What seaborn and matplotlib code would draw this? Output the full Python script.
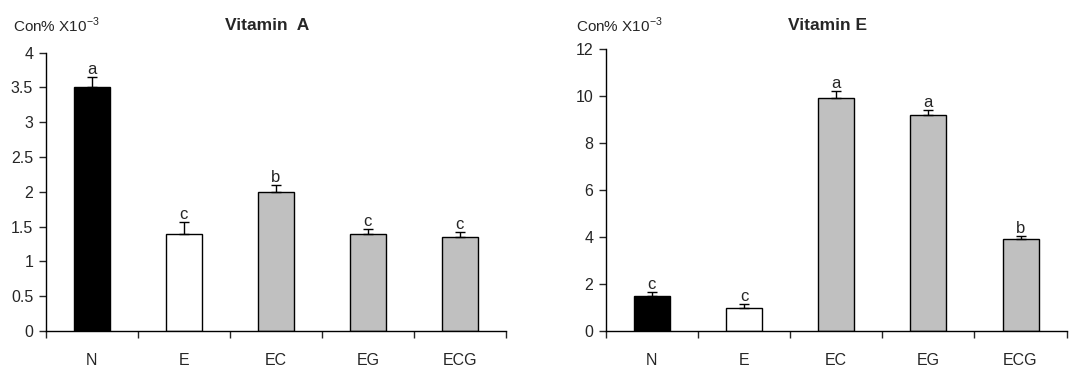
import matplotlib
matplotlib.use("Agg")
import matplotlib.pyplot as plt
import seaborn as sns
import pandas as pd
import numpy as np

groups = ["N", "E", "EC", "EG", "ECG"]
vitA = [3.5, 1.4, 2.0, 1.4, 1.35]
vitA_err = [0.15, 0.16, 0.10, 0.07, 0.07]
vitA_letters = ["a", "c", "b", "c", "c"]
vitE = [1.5, 0.97, 9.9, 9.18, 3.9]
vitE_err = [0.15, 0.2, 0.3, 0.22, 0.15]
vitE_letters = ["c", "c", "a", "a", "b"]
colors = ["#000000", "#ffffff", "#c0c0c0", "#c0c0c0", "#c0c0c0"]

sns.set_style("white")
plt.rcParams["font.family"] = ["Liberation Sans", "DejaVu Sans"]

fig = plt.figure(figsize=(10.69, 3.68), dpi=100)
ax1 = fig.add_axes([0.0427, 0.1005, 0.4306, 0.7565])
ax2 = fig.add_axes([0.5666, 0.1005, 0.4312, 0.7663])


def draw(ax, vals, errs, letters, ylim, yticks, yticklabels, title, title_x, label_x):
    df = pd.DataFrame({"group": groups, "value": vals})
    sns.barplot(data=df, x="group", y="value", hue="group", palette=colors,
                order=groups, hue_order=groups, legend=False, width=0.39,
                edgecolor="black", linewidth=1.0, ax=ax, errorbar=None)
    xs = np.arange(len(groups))
    ax.errorbar(xs, vals, yerr=[np.zeros(len(vals)), errs], fmt="none",
                ecolor="black", elinewidth=1.0, capsize=3.5, capthick=1.0)
    for x, v, e, l in zip(xs, vals, errs, letters):
        ax.annotate(l, (x, v + e), xytext=(0, 0), textcoords="offset points",
                    ha="center", va="bottom", fontsize=12)
    ax.set_xlim(-0.5, len(groups) - 0.5)
    ax.set_ylim(*ylim)
    ax.set_yticks(yticks)
    ax.set_yticklabels(yticklabels, fontsize=11.5)
    ax.set_xticks(xs)
    ax.set_xticklabels(groups, fontsize=11.5)
    ax.set_xticks(np.arange(len(groups) + 1) - 0.5, minor=True)
    ax.tick_params(axis="x", which="major", length=0, pad=16)
    ax.tick_params(axis="x", which="minor", length=5, width=1, direction="out", bottom=True)
    ax.tick_params(axis="y", length=5, width=1, direction="out", left=True, pad=4)
    ax.set_xlabel("")
    ax.set_ylabel("")
    for s in ["top", "right"]:
        ax.spines[s].set_visible(False)
    for s in ["left", "bottom"]:
        ax.spines[s].set_color("black")
        ax.spines[s].set_linewidth(1.0)
    fig.text(title_x, 0.93, title, ha="center", va="center", fontsize=12.5, fontweight="bold")
    fig.text(label_x, 0.93, r"Con% X10$^{\mathregular{-3}}$", ha="left", va="center", fontsize=11)


draw(ax1, vitA, vitA_err, vitA_letters, (0, 4), [0, 0.5, 1, 1.5, 2, 2.5, 3, 3.5, 4],
     ["0", "0.5", "1", "1.5", "2", "2.5", "3", "3.5", "4"], "Vitamin  A", 267 / 1069, 13 / 1069)
draw(ax2, vitE, vitE_err, vitE_letters, (0, 12), [0, 2, 4, 6, 8, 10, 12],
     ["0", "2", "4", "6", "8", "10", "12"], "Vitamin E", 828 / 1069, 576 / 1069)

fig.savefig("out.png", dpi=100, facecolor="white")
